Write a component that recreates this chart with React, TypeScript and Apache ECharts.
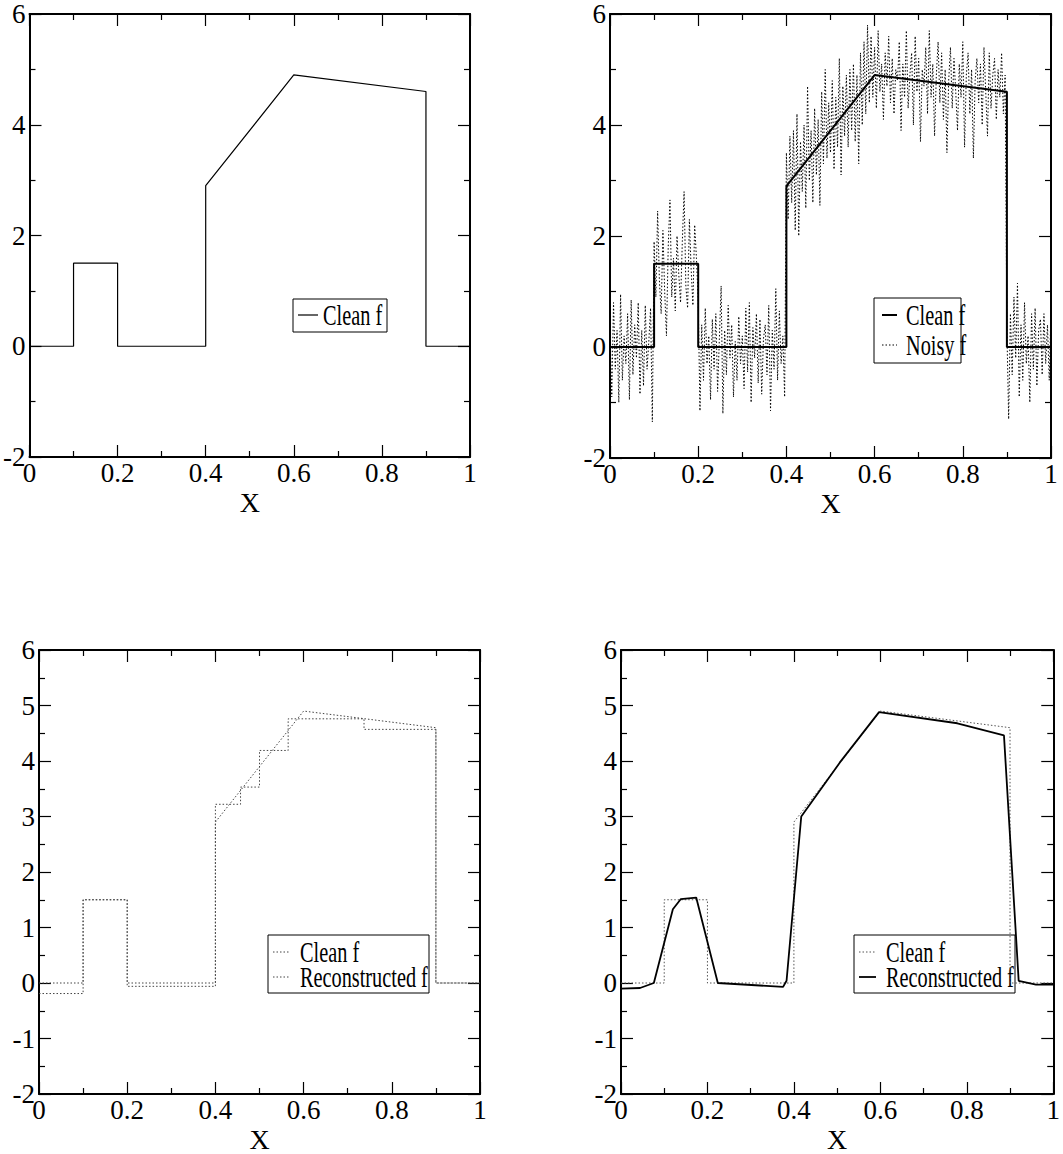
import React, { useEffect, useRef } from "react";
import * as echarts from "echarts";

// ---------- data ----------
const cleanX = [0, 0.1, 0.1, 0.2, 0.2, 0.4, 0.4, 0.6, 0.9, 0.9, 1.0];
const cleanY = [0, 0, 1.5, 1.5, 0, 0, 2.9, 4.9, 4.6, 0, 0];

// noisy samples on a uniform grid, step 0.004 from x = 0 to x = 1
const noisyStep = 0.004;
const noisyY = [
  // 0 - 0.096
  0.5, -0.9, 0.8, -0.4, 0.3, -1.0, 0.95, -0.6, 0.2, -0.3, 0.6, -0.95, 0.85, -0.5, 0.4, -0.2, 0.8, -0.85, 0.3, -0.7, 0.75, -0.4, 0.1, 0.7, -1.35,
  // 0.1 - 0.196
  1.9, 0.9, 2.45, 1.2, 0.6, 2.1, 1.0, 0.2, 1.8, 2.65, 0.9, 1.6, 0.65, 2.0, 1.3, 0.8, 1.9, 2.8, 1.1, 0.7, 2.3, 1.4, 0.75, 2.2, 1.6,
  // 0.2 - 0.396
  0.85, -1.15, 0.4, -0.6, 0.7, -0.3, 0.2, -0.95, 0.5, -0.4,
  0.6, -0.8, 0.15, 1.1, -1.2, 0.3, -0.5, 0.75, -0.2, 0.4,
  -0.9, 0.1, -0.6, 0.55, -0.3, 0.2, -0.75, 0.7, -0.45, 0.8,
  -1.0, 0.35, -0.2, 0.6, -0.65, 0.5, -0.85, 0.15, 0.4, -0.5,
  0.75, -1.15, 0.3, -0.4, 1.05, -0.6, 0.65, -0.3, 0.2, -0.9,
  // 0.4 - 0.596
  3.5, 2.3, 3.8, 2.6, 3.9, 2.1, 4.2, 2.0, 3.7, 2.8,
  4.0, 2.5, 4.7, 3.0, 3.9, 2.6, 4.3, 3.1, 4.1, 2.55,
  4.6, 3.3, 5.0, 3.4, 4.4, 3.5, 4.8, 3.2, 4.5, 3.6,
  5.2, 3.1, 4.7, 3.8, 4.9, 3.6, 5.0, 3.9, 5.1, 3.7,
  4.9, 3.3, 5.3, 4.0, 5.5, 4.2, 5.8, 4.4, 5.6, 4.5,
  // 0.6 - 0.896
  5.4, 4.3, 5.7, 4.6, 5.1, 4.1, 5.3, 4.7, 5.6, 4.4,
  5.2, 4.2, 5.0, 4.8, 5.5, 3.9, 5.1, 4.5, 5.7, 4.3,
  4.9, 5.3, 4.0, 5.6, 4.6, 5.2, 3.7, 5.0, 4.7, 5.4,
  4.2, 5.7, 4.5, 5.1, 3.8, 4.9, 5.5, 4.4, 5.3, 4.1,
  5.0, 3.5, 4.8, 5.4, 4.3, 5.2, 4.6, 3.9, 5.1, 4.5,
  5.5, 3.6, 4.9, 5.3, 4.2, 5.0, 3.4, 4.8, 5.2, 4.4,
  5.1, 4.0, 5.4, 4.6, 3.8, 5.3, 4.3, 4.9, 5.2, 4.1,
  5.0, 4.5, 5.3, 4.2, 4.9,
  // 0.9 - 1.0
  0.3, -1.3, 0.6, -0.5, 0.9, -0.2, 1.15, -0.9, 0.4, -0.6, 0.8, -0.3, 0.2, -1.0, 0.6, -0.4, 0.7, -0.7, 0.3, 0.5, -0.5, 0.6, -0.3, 0.4, -0.6, 0.7,
];

// piecewise-constant reconstruction (bottom-left)
const recon3Edges = [0, 0.1, 0.2, 0.4, 0.457, 0.5, 0.565, 0.737, 0.9, 1.0];
const recon3Levels = [-0.19, 1.5, -0.06, 3.22, 3.53, 4.19, 4.76, 4.57, 0];

// smooth reconstruction (bottom-right)
const recon4X = [0, 0.044, 0.076, 0.12, 0.138, 0.174, 0.224, 0.375, 0.383, 0.417, 0.506, 0.597, 0.778, 0.886, 0.92, 0.96, 1.0];
const recon4Y = [-0.1, -0.09, 0.0, 1.33, 1.51, 1.54, 0.0, -0.07, 0.04, 3.0, 3.97, 4.88, 4.68, 4.46, 0.04, -0.03, -0.03];

const xTickInterval = 0.2;
const yTickIntervals = [2, 2, 1, 1];

// ---------- layout ----------
const FONT = "Liberation Serif";
const grids = [
  { left: 29, top: 14, width: 441, height: 443 },
  { left: 610, top: 14, width: 441, height: 444 },
  { left: 39, top: 650, width: 441, height: 444 },
  { left: 621, top: 650, width: 440, height: 444 },
];

const pairs = (xs: number[], ys: number[]) => xs.map((x, i) => [x, ys[i]]);

function buildAxes() {
  const xAxis: any[] = [];
  const yAxis: any[] = [];
  const tick = { show: true, inside: true, length: 12, lineStyle: { color: "#000", width: 1.2 } };
  const minor = { show: true, splitNumber: 2, length: 6, lineStyle: { color: "#000", width: 1.2 } };
  const line = { show: true, onZero: false, lineStyle: { color: "#000", width: 2 } };
  grids.forEach((_, i) => {
    const base = {
      gridIndex: i,
      type: "value",
      axisLine: line,
      axisTick: tick,
      minorTick: minor,
      splitLine: { show: false },
      minorSplitLine: { show: false },
    };
    xAxis.push({
      ...base,
      position: "bottom",
      min: 0,
      max: 1,
      interval: xTickInterval,
      axisLabel: { show: true, color: "#000", fontSize: 27, fontFamily: FONT, margin: 2 },
      name: "X",
      nameLocation: "middle",
      nameGap: 31,
      nameTextStyle: { color: "#000", fontSize: 28, fontFamily: FONT },
    });
    xAxis.push({
      ...base,
      position: "top",
      min: 0,
      max: 1,
      interval: xTickInterval,
      axisLabel: { show: false },
    });
    yAxis.push({
      ...base,
      position: "left",
      min: -2,
      max: 6,
      interval: yTickIntervals[i],
      axisLabel: { show: true, color: "#000", fontSize: 27, fontFamily: FONT, margin: 4 },
    });
    yAxis.push({
      ...base,
      position: "right",
      min: -2,
      max: 6,
      interval: yTickIntervals[i],
      axisLabel: { show: false },
    });
  });
  return { xAxis, yAxis };
}

function lineSeries(i: number, data: number[][], color: string, width: number, type: any, extra: any = {}) {
  return {
    type: "line",
    xAxisIndex: 2 * i,
    yAxisIndex: 2 * i,
    data,
    symbol: "none",
    showSymbol: false,
    silent: true,
    lineStyle: { color, width, type },
    ...extra,
  };
}

function legendBox(x: number, y: number, w: number, h: number, items: any[]) {
  const children: any[] = [
    { type: "rect", shape: { x, y, width: w, height: h }, style: { fill: "#fff", stroke: "#000", lineWidth: 1 } },
  ];
  items.forEach((it) => {
    children.push({
      type: "line",
      shape: { x1: it.x1, y1: it.y, x2: it.x2, y2: it.y },
      style: { stroke: it.color, lineWidth: it.width, lineDash: it.dash || null },
    });
    children.push({
      type: "text",
      x: it.tx,
      y: it.y,
      scaleX: 0.7,
      style: {
        text: it.label,
        fill: "#000",
        fontSize: 29,
        fontFamily: FONT,
        align: "left",
        verticalAlign: "middle",
      },
    });
  });
  return { type: "group", children };
}

export default function App() {
  const ref = useRef<HTMLDivElement>(null);
  useEffect(() => {
    if (!ref.current) return;
    const chart = echarts.init(ref.current, undefined, { renderer: "svg" });
    const clean = pairs(cleanX, cleanY);
    const noisy = noisyY.map((v, i) => [+(i * noisyStep).toFixed(4), v]);
    const recon3 = recon3Edges.map((x, i) => [x, i < recon3Levels.length ? recon3Levels[i] : recon3Levels[recon3Levels.length - 1]]);
    const recon4 = pairs(recon4X, recon4Y);
    const { xAxis, yAxis } = buildAxes();
    const dotted = [1.5, 2];
    chart.setOption({
      animation: false,
      backgroundColor: "#fff",
      grid: grids.map((g) => ({ ...g, containLabel: false })),
      xAxis,
      yAxis,
      series: [
        lineSeries(0, clean, "#000", 1.2, "solid"),
        lineSeries(1, noisy, "#000", 1, dotted),
        lineSeries(1, clean, "#000", 2, "solid", { z: 3 }),
        lineSeries(2, clean, "#444", 1, dotted),
        lineSeries(2, recon3, "#444", 1, dotted, { step: "end" }),
        lineSeries(3, clean, "#555", 1, dotted),
        lineSeries(3, recon4, "#000", 1.8, "solid", { z: 3 }),
      ],
      graphic: [
        legendBox(293, 299, 94, 33, [
          { x1: 298, x2: 318, y: 315, color: "#000", width: 1.2, tx: 323, label: "Clean f" },
        ]),
        legendBox(874, 298, 87, 65, [
          { x1: 882, x2: 897, y: 315, color: "#000", width: 2, tx: 906, label: "Clean f" },
          { x1: 882, x2: 897, y: 345, color: "#000", width: 1, dash: dotted, tx: 906, label: "Noisy f" },
        ]),
        legendBox(268, 935, 161, 58, [
          { x1: 273, x2: 290, y: 952, color: "#444", width: 1, dash: dotted, tx: 300, label: "Clean f" },
          { x1: 273, x2: 290, y: 977, color: "#444", width: 1, dash: dotted, tx: 300, label: "Reconstructed f" },
        ]),
        legendBox(854, 935, 161, 58, [
          { x1: 859, x2: 876, y: 952, color: "#555", width: 1, dash: dotted, tx: 886, label: "Clean f" },
          { x1: 859, x2: 876, y: 977, color: "#000", width: 1.8, tx: 886, label: "Reconstructed f" },
        ]),
      ],
    });
    return () => chart.dispose();
  }, []);
  return (
    <div
      ref={ref}
      style={{ position: "absolute", left: 0, top: 0, width: 1063, height: 1154, background: "#fff" }}
    />
  );
}
